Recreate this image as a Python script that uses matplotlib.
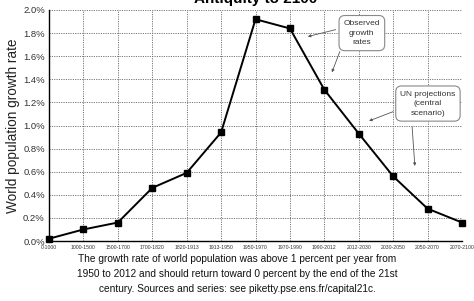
import matplotlib.pyplot as plt
import numpy as np

periods = ['0-1000', '1000-1500', '1500-1700', '1700-1820', '1820-1913',
           '1913-1950', '1950-1970', '1970-1990', '1990-2012', '2012-2030',
           '2030-2050', '2050-2070', '2070-2100']
growth = [0.0002, 0.0010, 0.0016, 0.0046, 0.0059, 0.0094, 0.0192,
          0.0184, 0.0131, 0.0093, 0.0056, 0.0028, 0.0016]
y_ticks = [0.0, 0.002, 0.004, 0.006, 0.008, 0.010, 0.012, 0.014, 0.016, 0.018, 0.020]

caption = ("The growth rate of world population was above 1 percent per year from\n"
           "1950 to 2012 and should return toward 0 percent by the end of the 21st\n"
           "century. Sources and series: see piketty.pse.ens.fr/capital21c.")

plt.rcParams['font.family'] = ['Liberation Sans', 'DejaVu Sans']

fig = plt.figure(figsize=(4.74, 3.01), dpi=100)
ax = fig.add_axes([0.1034, 0.1993, 0.8713, 0.7675])

x = np.arange(len(periods))
ax.plot(x, growth, color='black', lw=1.4, marker='s', markersize=4.2, zorder=3, clip_on=False)

ax.set_xlim(0, len(periods) - 1)
ax.set_ylim(0, 0.02)
ax.set_xticks(x)
ax.set_xticklabels(periods, fontsize=3.7, color='#333333')
ax.set_yticks(y_ticks)
ax.set_yticklabels(['{:.1f}%'.format(v * 100) for v in y_ticks], fontsize=6.8, color='#333333')
ax.tick_params(length=0, pad=3)
ax.tick_params(axis='x', pad=3)

ax.grid(True, linestyle=(0, (1.2, 1.2)), color='#777777', lw=0.7)
for s in ['top', 'right']:
    ax.spines[s].set_visible(False)
ax.spines['left'].set_linewidth(1.0)
ax.spines['bottom'].set_linewidth(1.0)

ax.set_ylabel('World population growth rate', fontsize=9.8, color='#222222', labelpad=2)

box = dict(boxstyle='round,pad=0.55,rounding_size=0.7', fc='white', ec='#888888', lw=0.8)
arrow = dict(arrowstyle='-|>', color='#555555', lw=0.6, mutation_scale=4, shrinkA=0, shrinkB=0)

ax.text(9.09, 0.0180, 'Observed\ngrowth\nrates', ha='center', va='center',
        fontsize=6.0, color='#333333', bbox=box, linespacing=1.5, zorder=4)
ax.annotate('', xy=(7.52, 0.0177), xytext=(8.33, 0.0183), arrowprops=arrow)
ax.annotate('', xy=(8.22, 0.0146), xytext=(8.45, 0.0164), arrowprops=arrow)

ax.text(11.01, 0.0119, 'UN projections\n(central\nscenario)', ha='center', va='center',
        fontsize=6.0, color='#333333', bbox=box, linespacing=1.5, zorder=4)
ax.annotate('', xy=(9.30, 0.0104), xytext=(10.0, 0.0112), arrowprops=arrow)
ax.annotate('', xy=(10.63, 0.0065), xytext=(10.55, 0.0099), arrowprops=arrow)

fig.text(0.54, 0.991, 'Antiquity to 2100', ha='center', va='baseline',
         fontsize=11, fontweight='bold')
fig.text(0.5, 0.155, caption, ha='center', va='top', fontsize=7.3,
         color='#111111', linespacing=1.6)

fig.savefig('out.png', dpi=100)
